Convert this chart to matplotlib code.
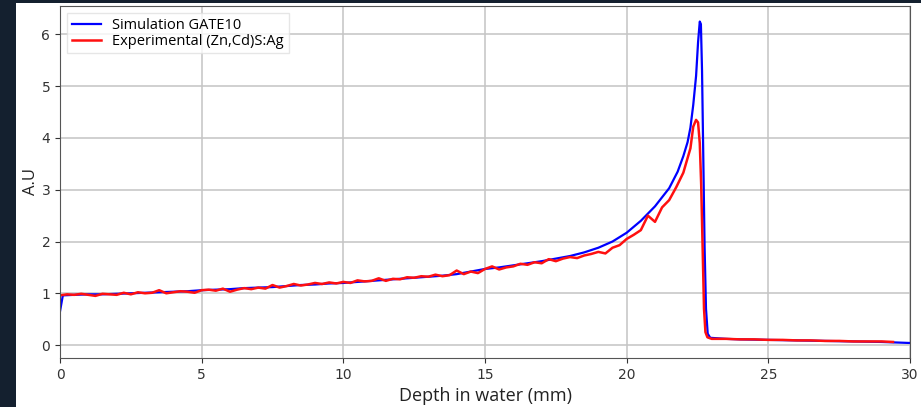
import matplotlib.pyplot as plt
from matplotlib.patches import Rectangle

# Simulation GATE10 (depth mm, dose A.U)
sim_depth = [0.0, 0.1, 0.5, 1.0, 1.5, 2.0, 2.5, 3.0, 3.5, 4.0, 4.5, 5.0, 5.5, 6.0, 6.5,
             7.0, 7.5, 8.0, 8.5, 9.0, 9.5, 10.0, 10.5, 11.0, 11.5, 12.0, 12.5, 13.0,
             13.5, 14.0, 14.5, 15.0, 15.5, 16.0, 16.5, 17.0, 17.5, 18.0, 18.5, 19.0,
             19.5, 20.0, 20.5, 21.0, 21.5, 21.8, 22.0, 22.15, 22.25, 22.35, 22.45,
             22.52, 22.58, 22.62, 22.66, 22.7, 22.75, 22.8, 22.86, 22.95, 23.5, 24.0,
             25.0, 26.0, 27.0, 28.0, 29.0, 30.0]
sim_dose = [0.65, 0.96, 0.97, 0.98, 0.98, 0.99, 1.00, 1.01, 1.02, 1.03, 1.04, 1.06, 1.07,
            1.08, 1.10, 1.11, 1.12, 1.14, 1.16, 1.17, 1.19, 1.20, 1.22, 1.24, 1.26, 1.28,
            1.30, 1.32, 1.34, 1.37, 1.42, 1.47, 1.50, 1.54, 1.58, 1.62, 1.67, 1.72, 1.79,
            1.88, 2.00, 2.17, 2.40, 2.68, 3.03, 3.35, 3.65, 3.92, 4.20, 4.64, 5.20, 5.85,
            6.25, 6.20, 5.30, 3.80, 1.90, 0.70, 0.22, 0.14, 0.12, 0.11, 0.10, 0.09, 0.08,
            0.07, 0.06, 0.04]

# Experimental (Zn,Cd)S:Ag
exp_depth = [0.0, 0.25, 0.5, 0.75, 1.0, 1.25, 1.5, 1.75, 2.0, 2.25, 2.5, 2.75, 3.0, 3.25,
             3.5, 3.75, 4.0, 4.25, 4.5, 4.75, 5.0, 5.25, 5.5, 5.75, 6.0, 6.25, 6.5, 6.75,
             7.0, 7.25, 7.5, 7.75, 8.0, 8.25, 8.5, 8.75, 9.0, 9.25, 9.5, 9.75, 10.0,
             10.25, 10.5, 10.75, 11.0, 11.25, 11.5, 11.75, 12.0, 12.25, 12.5, 12.75,
             13.0, 13.25, 13.5, 13.75, 14.0, 14.25, 14.5, 14.75, 15.0, 15.25, 15.5,
             15.75, 16.0, 16.25, 16.5, 16.75, 17.0, 17.25, 17.5, 17.75, 18.0, 18.25,
             18.5, 18.75, 19.0, 19.25, 19.5, 19.75, 20.0, 20.25, 20.5, 20.75, 21.0,
             21.25, 21.5, 21.75, 22.0, 22.25, 22.35, 22.45, 22.52, 22.58, 22.63, 22.68,
             22.73, 22.78, 22.85, 23.0, 23.5, 24.0, 24.5, 25.0, 25.5, 26.0, 26.5, 27.0,
             27.5, 28.0, 28.5, 29.0, 29.4]
exp_dose = [0.96, 0.98, 0.97, 0.99, 0.97, 0.95, 0.99, 0.98, 0.97, 1.01, 0.98, 1.02, 1.00,
            1.01, 1.06, 1.00, 1.02, 1.04, 1.03, 1.01, 1.06, 1.07, 1.05, 1.09, 1.03, 1.07,
            1.10, 1.08, 1.11, 1.09, 1.16, 1.11, 1.14, 1.18, 1.15, 1.17, 1.20, 1.18, 1.21,
            1.19, 1.22, 1.20, 1.25, 1.23, 1.24, 1.29, 1.24, 1.28, 1.27, 1.31, 1.30, 1.33,
            1.32, 1.36, 1.33, 1.35, 1.44, 1.37, 1.42, 1.39, 1.47, 1.52, 1.46, 1.50, 1.52,
            1.57, 1.55, 1.60, 1.58, 1.66, 1.62, 1.67, 1.70, 1.68, 1.73, 1.76, 1.80, 1.77,
            1.88, 1.93, 2.05, 2.13, 2.22, 2.50, 2.38, 2.66, 2.80, 3.05, 3.33, 3.80, 4.22,
            4.35, 4.30, 3.90, 3.10, 1.90, 0.70, 0.25, 0.15, 0.12, 0.12, 0.11, 0.11, 0.10,
            0.10, 0.09, 0.09, 0.08, 0.08, 0.07, 0.07, 0.07, 0.06]

fig = plt.figure(figsize=(9.21, 4.07), dpi=100, facecolor='#14202f')
# white slide area
fig.patches.append(Rectangle((16 / 921, 0), 1, 1 - 3 / 407, transform=fig.transFigure,
                             facecolor='white', edgecolor='none', zorder=-10))

ax = fig.add_axes([60 / 921, 1 - 358 / 407, 850 / 921, 352 / 407])
ax.plot(sim_depth, sim_dose, color='#0000ff', lw=1.6, label='Simulation GATE10')
ax.plot(exp_depth, exp_dose, color='#ff1010', lw=1.8, label='Experimental (Zn,Cd)S:Ag')

ax.set_xlim(0, 30)
ax.set_ylim(-0.25, 6.55)
ax.set_xticks([0, 5, 10, 15, 20, 25, 30])
ax.set_yticks([0, 1, 2, 3, 4, 5, 6])
ax.grid(True, color='#c4c4c4', lw=1.1)
ax.set_axisbelow(True)
ax.tick_params(labelsize=10, colors='#333333')
for s in ax.spines.values():
    s.set_color('#555555')

ax.set_xlabel('Depth in water (mm)', family='Open Sans', fontsize=13, color='#222222', labelpad=4)
ax.set_ylabel('A.U', family='Open Sans', fontsize=12, color='#222222', labelpad=2)

leg = ax.legend(loc='upper left', prop={'family': 'Open Sans', 'size': 10.5},
                handlelength=2.0, borderpad=0.3, labelspacing=0.1, fancybox=False)
leg.get_frame().set_edgecolor('#e0e0e0')

fig.savefig('out.png', dpi=100, facecolor=fig.get_facecolor())
